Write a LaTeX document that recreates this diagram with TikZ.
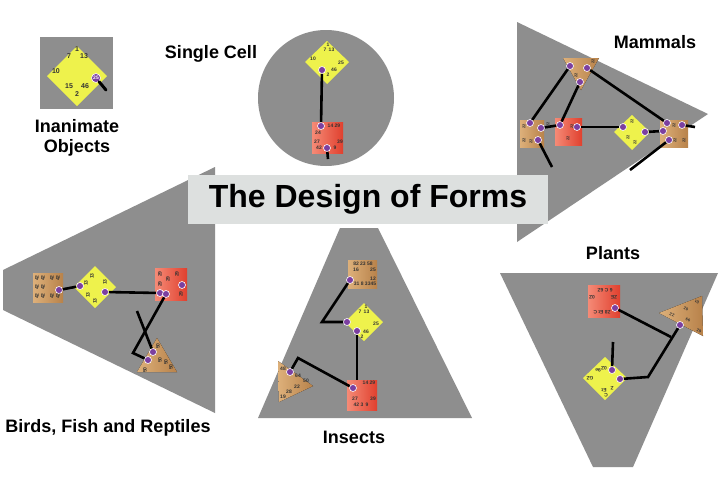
\documentclass[tikz,border=0pt]{standalone}
\usepackage{fontspec}
\setmainfont{Liberation Sans}
\definecolor{panel}{HTML}{8E8E8E}
\definecolor{titlebg}{HTML}{DDE0DF}
\definecolor{yel}{HTML}{EEF24C}
\definecolor{redA}{HTML}{F58A76}
\definecolor{redB}{HTML}{E0402E}
\definecolor{tanA}{HTML}{DDB07A}
\definecolor{tanB}{HTML}{B8824A}
\definecolor{mark}{HTML}{7B3FA0}
\tikzset{
  panelfill/.style={fill=panel},
  lab/.style={font=\bfseries\fontsize{18}{20}\selectfont, align=center, inner sep=0pt},
  yd/.style={fill=yel},
  rsq/.style={left color=redA, right color=redB},
  tsq/.style={left color=tanA, right color=tanB},
  mk/.style={circle, fill=mark, draw=white, line width=0.6pt, inner sep=0pt, minimum size=7pt},
  wire/.style={line width=2.6pt, black},
  num/.style={font=\bfseries\fontsize{5}{5}\selectfont, text=black!80, inner sep=0pt},
}
\begin{document}
\begin{tikzpicture}[x=1pt,y=-1pt]
\useasboundingbox (0,0) rectangle (720,480);
\fill[white] (0,0) rectangle (720,480);

% ---------- panels ----------
\fill[panelfill] (517,22) -- (708,114) -- (517,242) -- cycle;
\fill[panelfill] (3,270) -- (215,167) -- (215,413) -- (3,310) -- cycle;
\fill[panelfill] (340,228) -- (378,228) -- (472,418) -- (258,418) -- cycle;
\fill[panelfill] (500,273) -- (718,273) -- (633,467) -- (593,467) -- cycle;
\fill[panelfill] (326,98) circle (68);
\fill[panelfill] (40,37) rectangle (113,109);

% ---------- title ----------
\node[fill=titlebg, minimum width=360pt, minimum height=49pt, inner sep=0pt,
      font=\bfseries\fontsize{32}{34}\selectfont] (title) at (368,199.5) {The Design of Forms};

% ---------- labels ----------
\node[lab] (lInan) at (77,138) {Inanimate\\Objects};
\node[lab] (lCell) at (211,54) {Single Cell};
\node[lab] (lMam) at (655,42) {Mammals};
\node[lab] (lBird) at (108,428) {Birds, Fish and Reptiles};
\node[lab] (lIns) at (354,437) {Insects};
\node[lab] (lPla) at (613,253) {Plants};

% ---------- Inanimate objects ----------
\fill[yd] (77,46) -- (107,76) -- (77,106) -- (47,76) -- cycle;
\node[num,font=\bfseries\fontsize{7}{7}\selectfont] at (77,49) {1};
\node[num,font=\bfseries\fontsize{7}{7}\selectfont] at (69,56) {7};
\node[num,font=\bfseries\fontsize{7}{7}\selectfont] at (84,56) {13};
\node[num,font=\bfseries\fontsize{7}{7}\selectfont] at (56,71) {10};
\node[num,font=\bfseries\fontsize{7}{7}\selectfont] at (69,86) {15};
\node[num,font=\bfseries\fontsize{7}{7}\selectfont] at (85,86) {46};
\node[num,font=\bfseries\fontsize{7}{7}\selectfont] at (77,94) {2};
\node[mk, minimum size=9pt, font=\bfseries\fontsize{5}{5}\selectfont, text=white] (inM) at (96,78) {25};
\coordinate (inH) at (106,90);
\draw[line width=3pt, line cap=round] (inM) -- (inH);

% ---------- Single cell ----------
\fill[yd] (327,41) -- (349,62) -- (327,84) -- (305,62) -- cycle;
\node[num] at (328,45) {1};
\node[num] at (329,50) {7 \,13};
\node[num] at (313,59) {10};
\node[num] at (341,63) {25};
\node[num] at (334,70) {46};
\node[num] at (328,75) {2};
\node[mk] (scD) at (322,70) {};
\fill[rsq] (312,122) rectangle (343,153);
\node[num] at (334,126) {14 29};
\node[num] at (318,133) {24};
\node[num] at (317,142) {27};
\node[num] at (340,142) {39};
\node[num] at (319,148) {42};
\node[num] at (335,148) {9};
\node[mk] (scS) at (321,126) {};
\node[mk] (scS2) at (327,148) {};
\coordinate (scT) at (328,159);
\draw[wire] (scD) -- (scS);
\draw[wire] (scS2) -- (scT);

% ---------- Mammals ----------
\fill[tsq] (563,58) -- (599,58) -- (581,90) -- cycle;
\fill[tsq] (520,120) rectangle (544,147);
\fill[rsq] (555,118) rectangle (582,145);
\fill[yd] (632,115) -- (650,132) -- (632,150) -- (614,132) -- cycle;
\fill[tsq] (660,120) rectangle (688,147);
\node[mk] (mT1) at (570,66) {};
\node[mk] (mT2) at (587,68) {};
\node[mk] (mT3) at (580,82) {};
\node[mk] (mL1) at (530,123) {};
\node[mk] (mL2) at (541,128) {};
\node[mk] (mL3) at (538,140) {};
\node[mk] (mR1) at (560,125) {};
\node[mk] (mR2) at (577,127) {};
\node[mk] (mD1) at (623,127) {};
\node[mk] (mD2) at (645,132) {};
\node[mk] (mS1) at (667,123) {};
\node[mk] (mS2) at (663,131) {};
\node[mk] (mS3) at (669,140) {};
\node[mk] (mS4) at (682,125) {};
\coordinate (mE1) at (695,127);
\coordinate (mE2) at (552,167);
\coordinate (mE3) at (630,170);
\draw[wire] (mT1) -- (mL1);
\draw[wire] (mT3) -- (mR1);
\draw[wire] (mT2) -- (mS1);
\draw[wire] (mL2) -- (mR1);
\draw[wire] (mR2) -- (mD1);
\draw[wire] (mD2) -- (mS2);
\draw[wire] (mS4) -- (mE1);
\draw[wire] (mL3) -- (mE2);
\draw[wire] (mS3) -- (mE3);
\foreach \p in {(576,75),(593,61),(524,126),(524,140),(531,141),(548,124),(568,138),(572,126),(632,121),(635,142),(628,137),(674,125),(675,140),(684,140)}
  \node[num, rotate=90, font=\bfseries\fontsize{4}{4}\selectfont] at \p {22};

% ---------- Birds, fish and reptiles ----------
\fill[tsq] (33,273) rectangle (63,302);
\fill[yd] (95,266) -- (116,287) -- (95,308) -- (74,287) -- cycle;
\fill[rsq] (155,268) rectangle (187,300);
\fill[tsq] (157,338) -- (177,372) -- (137,372) -- cycle;
\node[mk] (bS) at (59,290) {};
\node[mk] (bD1) at (80,286) {};
\node[mk] (bD2) at (105,292) {};
\node[mk] (bR1) at (160,293) {};
\node[mk] (bR2) at (166,294) {};
\node[mk] (bR3) at (182,285) {};
\node[mk] (bT1) at (153,352) {};
\node[mk] (bT2) at (148,360) {};
\coordinate (bA) at (133,353);
\coordinate (bB) at (137,311);
\draw[wire] (bS) -- (bD1);
\draw[wire] (bD2) -- (bR1);
\draw[wire] (bR2) -- (bA) -- (bT2);
\draw[wire] (bB) -- (bT1);
\foreach \p in {(37,278),(43,278),(52,278),(58,278),(37,287),(43,287),(37,296),(43,296),(52,296),(58,296)}
  \node[num, rotate=90] at \p {42};
\foreach \p in {(92,276),(86,283),(105,282),(88,295),(95,301)}
  \node[num, rotate=90] at \p {13};
\foreach \p in {(160,274),(168,279),(177,274),(160,284),(181,294)}
  \node[num, rotate=90] at \p {29};
\foreach \p in {(158,346),(160,360),(166,362),(171,367),(145,370)}
  \node[num, rotate=90] at \p {50};

% ---------- Insects ----------
\fill[tsq] (348,260) rectangle (377,288);
\fill[yd] (364,303) -- (383,322) -- (364,341) -- (345,322) -- cycle;
\fill[rsq] (347,380) rectangle (377,410);
\fill[tsq] (278,361) -- (313,386) -- (279,402) -- cycle;
\node[num] at (363,264) {82 23 58};
\node[num] at (356,270) {16};
\node[num] at (373,270) {25};
\node[num] at (373,279) {12};
\node[num] at (365,284) {31 8 3345};
\node[num] at (366,307) {1};
\node[num] at (364,312) {7 \,13};
\node[num] at (376,324) {25};
\node[num] at (366,332) {46};
\node[num] at (362,337) {2};
\node[num] at (369,383) {14 29};
\node[num] at (355,399) {27};
\node[num] at (373,399) {39};
\node[num] at (361,405) {42 3 \,9};
\node[num] at (283,369) {48};
\node[num] at (298,376) {64};
\node[num] at (306,381) {50};
\node[num] at (297,387) {22};
\node[num] at (289,392) {28};
\node[num] at (283,397) {19};
\node[mk] (iS) at (350,280) {};
\node[mk] (iD1) at (347,322) {};
\node[mk] (iD2) at (357,331) {};
\node[mk] (iR) at (353,388) {};
\node[mk] (iT) at (290,372) {};
\coordinate (iA) at (322,322);
\coordinate (iB) at (357,380);
\coordinate (iC) at (298,358);
\draw[wire] (iS) -- (iA) -- (iD1);
\draw[wire] (iD2) -- (iB);
\draw[wire] (iR) -- (iC) -- (iT);

% ---------- Plants ----------
\fill[rsq] (588,285) rectangle (620,317);
\fill[tsq] (659,313) -- (702,296) -- (703,336) -- cycle;
\fill[yd] (605,357) -- (627,378) -- (605,400) -- (583,378) -- cycle;
\foreach \p/\t in {(605,290)/6 C 6Z,(592,297)/0Z,(614,297)/ZE,(602,312)/Z8 Et C}
  \node[num, rotate=180] at \p {\t};
\foreach \p/\t in {(697,302)/Et,(686,309)/0Z,(672,315)/ZZ,(688,320)/99,(699,331)/6Z}
  \node[num, rotate=160, font=\bfseries\fontsize{4}{4}\selectfont] at \p {\t};
\foreach \p/\t in {(604,368)/0Z,(598,370)/9e,(590,378)/GZ,(604,390)/Et,(612,388)/Z,(606,395)/C}
  \node[num, rotate=180] at \p {\t};
\node[mk] (pR) at (615,308) {};
\node[mk] (pT) at (680,325) {};
\node[mk] (pD1) at (612,370) {};
\node[mk] (pD2) at (620,379) {};
\coordinate (pJ) at (671,337);
\coordinate (pA) at (648,377);
\coordinate (pV) at (613,342);
\draw[wire] (pR) -- (pJ);
\draw[wire] (pT) -- (pA) -- (pD2);
\draw[wire] (pV) -- (pD1);
\end{tikzpicture}
\end{document}
